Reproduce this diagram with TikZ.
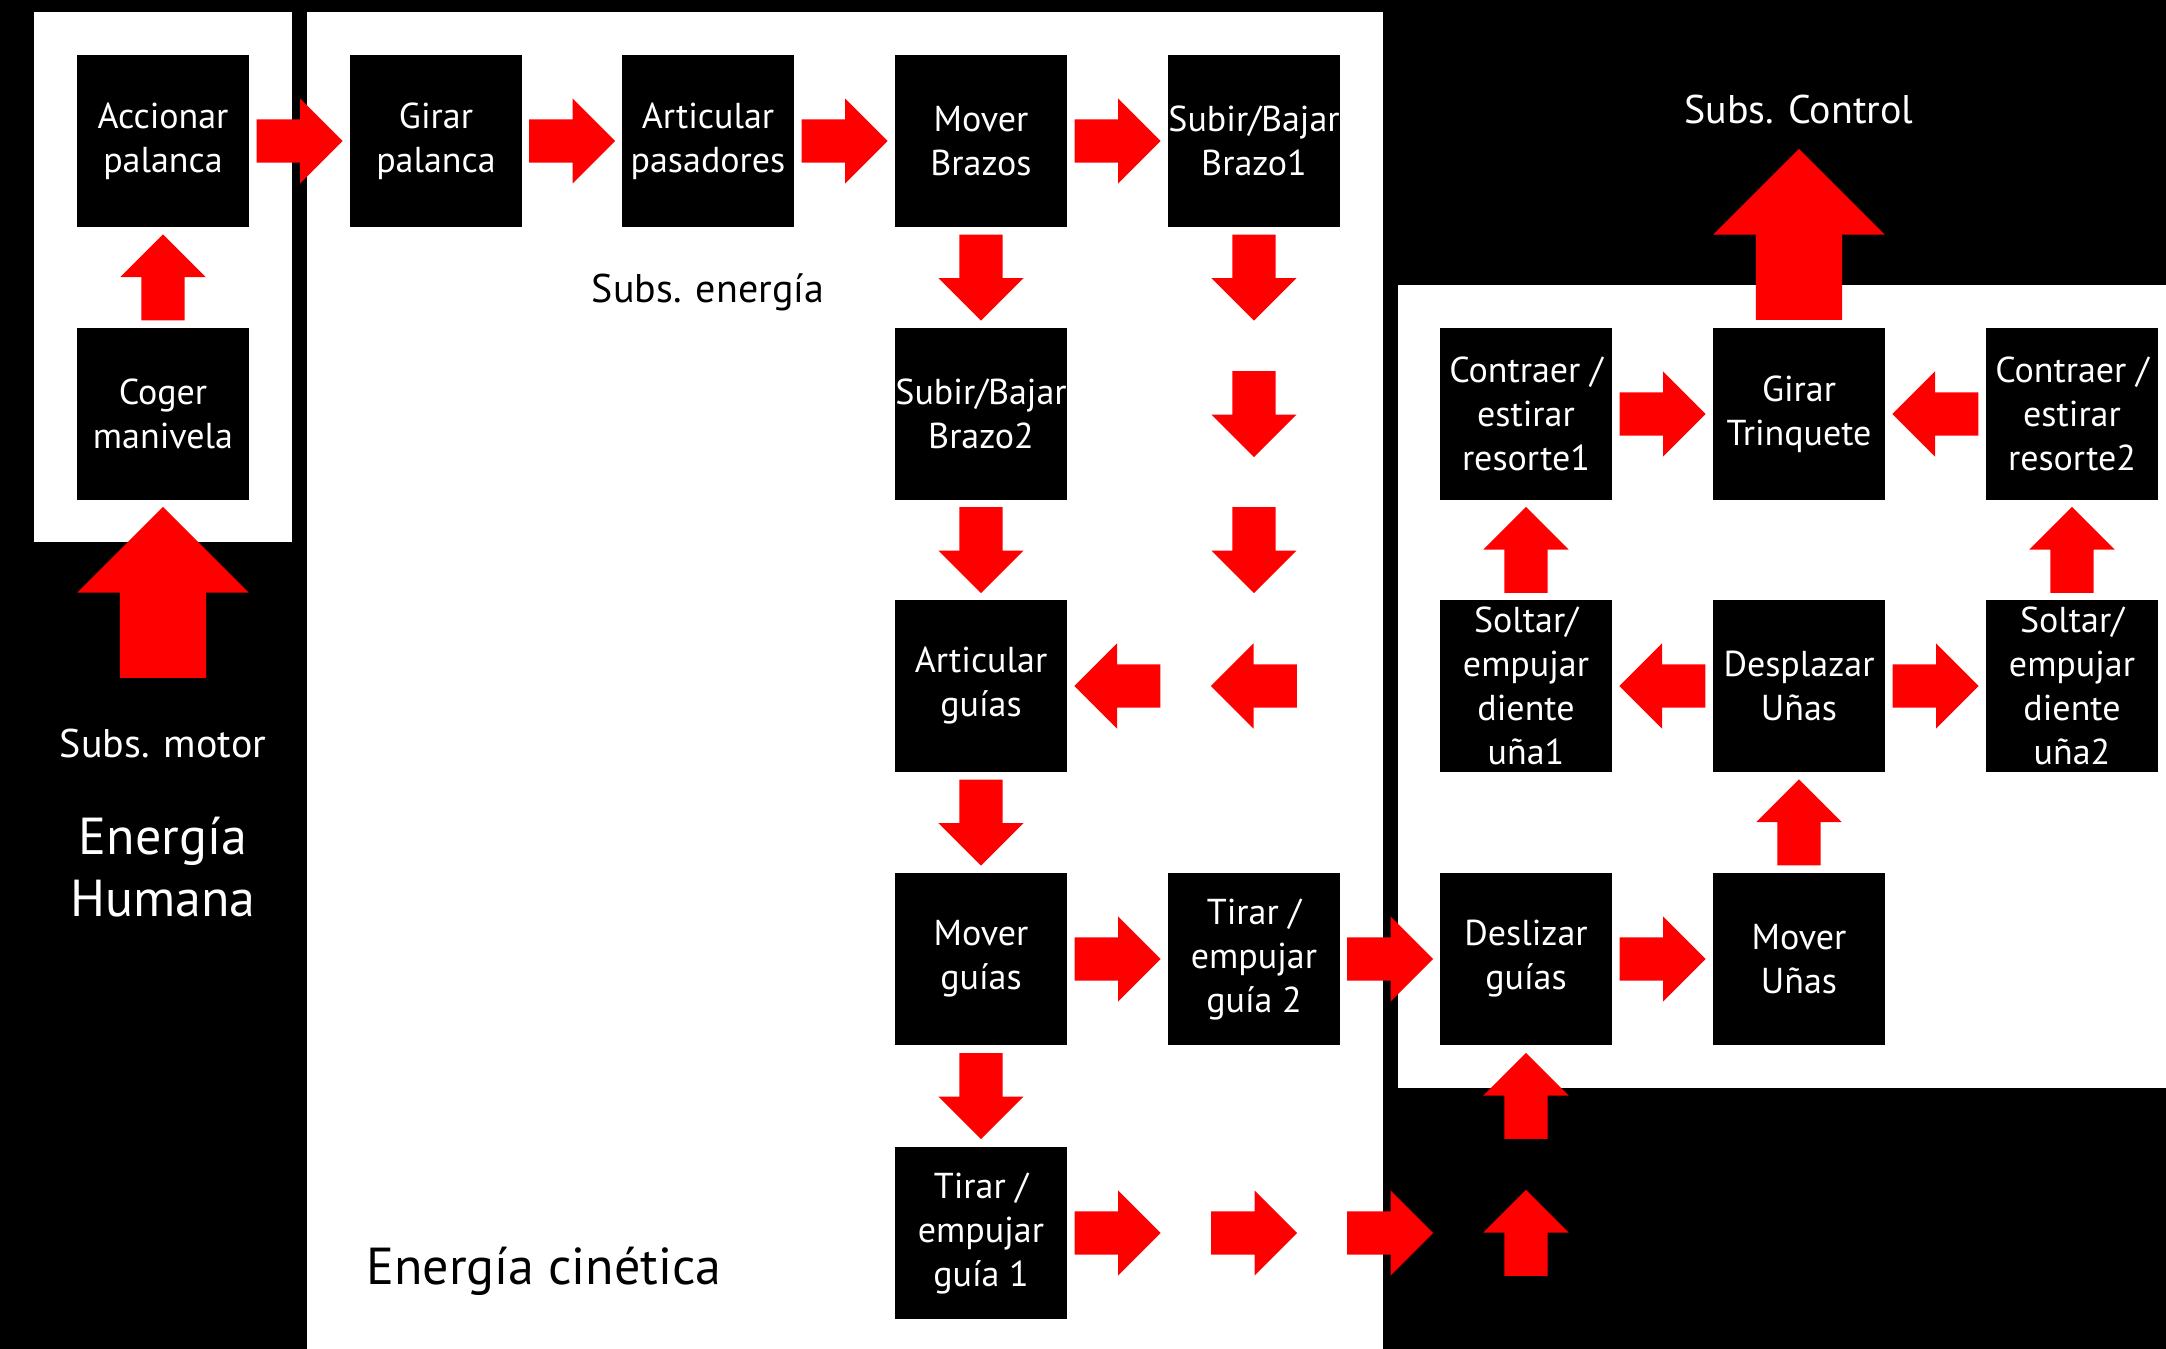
\documentclass[tikz,border=0pt]{standalone}
\usepackage{fontspec}
\setmainfont{PT Sans}
\usetikzlibrary{shapes.arrows,calc}
\definecolor{arrred}{HTML}{FF0000}
\tikzset{
  blk/.style={fill=black, text=white, minimum width=172pt, minimum height=172pt,
    inner sep=0pt, align=center, font=\fontsize{36}{44}\selectfont},
  blockarrow/.style={single arrow, fill=arrred, draw=none, inner xsep=0pt, inner ysep=21.5pt,
    minimum height=86pt, minimum width=85pt, single arrow head extend=21pt, anchor=tail},
  bigarrow/.style={single arrow, fill=arrred, draw=none, inner xsep=0pt, inner ysep=43pt,
    minimum height=171pt, minimum width=171pt, single arrow head extend=42.5pt, rotate=90, anchor=tail},
  rarr/.style={blockarrow},
  larr/.style={blockarrow, rotate=180},
  uarr/.style={blockarrow, rotate=90},
  darr/.style={blockarrow, rotate=-90},
  lab/.style={inner sep=0pt, font=\fontsize{40}{48}\selectfont},
  biglab/.style={inner sep=0pt, align=center, font=\fontsize{52}{62}\selectfont}
}
\begin{document}
\begin{tikzpicture}[x=1pt,y=-1pt]
\useasboundingbox (0,0) rectangle (2166,1349);
\fill[black] (0,0) rectangle (2166,1349);
% white panels
\fill[white] (34,12) rectangle (292,542);
\fill[white] (307,12) rectangle (1383,1349);
\fill[white] (1398,285) rectangle (2166,1088);

% boxes
\node[blk] (acc)  at (163,141)  {Accionar\\palanca};
\node[blk] (cog)  at (163,414)  {Coger\\manivela};
\node[blk] (girp) at (436,141)  {Girar\\palanca};
\node[blk] (artp) at (708,141)  {Articular\\pasadores};
\node[blk] (movb) at (981,141)  {Mover\\Brazos};
\node[blk] (b1)   at (1254,141) {Subir/Bajar\\Brazo1};
\node[blk] (b2)   at (981,414)  {Subir/Bajar\\Brazo2};
\node[blk] (artg) at (981,686)  {Articular\\guías};
\node[blk] (movg) at (981,959)  {Mover\\guías};
\node[blk] (tir1) at (981,1233) {Tirar /\\empujar\\guía 1};
\node[blk] (tir2) at (1254,959) {Tirar /\\empujar\\guía 2};
\node[blk] (con1) at (1526,414) {Contraer /\\estirar\\resorte1};
\node[blk] (trq)  at (1799,414) {Girar\\Trinquete};
\node[blk] (con2) at (2072,414) {Contraer /\\estirar\\resorte2};
\node[blk] (sol1) at (1526,686) {Soltar/\\empujar\\diente\\uña1};
\node[blk] (desp) at (1799,686) {Desplazar\\Uñas};
\node[blk] (sol2) at (2072,686) {Soltar/\\empujar\\diente\\uña2};
\node[blk] (desl) at (1526,959) {Deslizar\\guías};
\node[blk] (movu) at (1799,959) {Mover\\Uñas};

% free cell points
\coordinate (c41) at (1254,414);
\coordinate (c42) at (1254,686);
\coordinate (c44) at (1254,1233);
\coordinate (c54) at (1526,1233);
\coordinate (motortail) at (163,678);
\coordinate (ctrltail) at (1799,320);

% labels
\node[lab, text=white, anchor=base] (smotor) at (163,757) {Subs. motor};
\node[biglab, text=white] (ehum) at (163,867) {Energía\\Humana};
\node[lab, text=black, anchor=base] (senergia) at (708,302) {Subs. energía};
\node[lab, text=white, anchor=base] (scontrol) at (1799,123) {Subs. Control};
\node[biglab, text=black, anchor=base] (ecin) at (544,1284) {Energía cinética};

% arrows: subsystem motor  (anchored at their tails)
\node[bigarrow] (amotor) at (motortail) {};
\node[uarr] (a1) at ($(cog.north)!.5!(acc.south)+(0,43)$) {};
\node[rarr] (a2) at ($(acc.east)!.5!(girp.west)+(-43,0)$) {};
% energy subsystem
\node[rarr] (a3) at ($(girp.east)!.5!(artp.west)+(-43,0)$) {};
\node[rarr] (a4) at ($(artp.east)!.5!(movb.west)+(-43,0)$) {};
\node[rarr] (a5) at ($(movb.east)!.5!(b1.west)+(-43,0)$) {};
\node[darr] (a6) at ($(movb.south)!.5!(b2.north)+(0,-43)$) {};
\node[darr] (a7) at ($(b1.south)!.5!(b1.south |- b2.north)+(0,-43)$) {};
\node[darr] (a8) at ($(c41)+(0,-43)$) {};
\node[darr] (a9) at ($(b1.south |- b2.south)!.5!(b1.south |- artg.north)+(0,-43)$) {};
\node[larr] (a10) at ($(c42)+(43,0)$) {};
\node[larr] (a11) at ($(artg.east)!.5!(tir2.west |- artg.east)+(43,0)$) {};
\node[darr] (a12) at ($(b2.south)!.5!(artg.north)+(0,-43)$) {};
\node[darr] (a13) at ($(artg.south)!.5!(movg.north)+(0,-43)$) {};
\node[darr] (a14) at ($(movg.south)!.5!(tir1.north)+(0,-43)$) {};
\node[rarr] (a15) at ($(movg.east)!.5!(tir2.west)+(-43,0)$) {};
\node[rarr] (a16) at ($(tir2.east)!.5!(desl.west)+(-43,0)$) {};
\node[rarr] (a17) at ($(tir1.east)!.5!(tir2.west |- tir1.east)+(-43,0)$) {};
\node[rarr] (a18) at ($(c44)+(-43,0)$) {};
\node[rarr] (a19) at ($(tir2.east |- tir1.east)!.5!(desl.west |- tir1.east)+(-43,0)$) {};
\node[uarr] (a20) at ($(c54)+(0,43)$) {};
\node[uarr] (a21) at ($(desl.south)!.5!(desl.south |- tir1.north)+(0,43)$) {};
% control subsystem
\node[rarr] (a22) at ($(desl.east)!.5!(movu.west)+(-43,0)$) {};
\node[uarr] (a23) at ($(movu.north)!.5!(desp.south)+(0,43)$) {};
\node[larr] (a24) at ($(desp.west)!.5!(sol1.east)+(43,0)$) {};
\node[rarr] (a25) at ($(desp.east)!.5!(sol2.west)+(-43,0)$) {};
\node[uarr] (a26) at ($(sol1.north)!.5!(con1.south)+(0,43)$) {};
\node[uarr] (a27) at ($(sol2.north)!.5!(con2.south)+(0,43)$) {};
\node[rarr] (a28) at ($(con1.east)!.5!(trq.west)+(-43,0)$) {};
\node[larr] (a29) at ($(con2.west)!.5!(trq.east)+(43,0)$) {};
\node[bigarrow] (actrl) at (ctrltail) {};
\end{tikzpicture}
\end{document}
